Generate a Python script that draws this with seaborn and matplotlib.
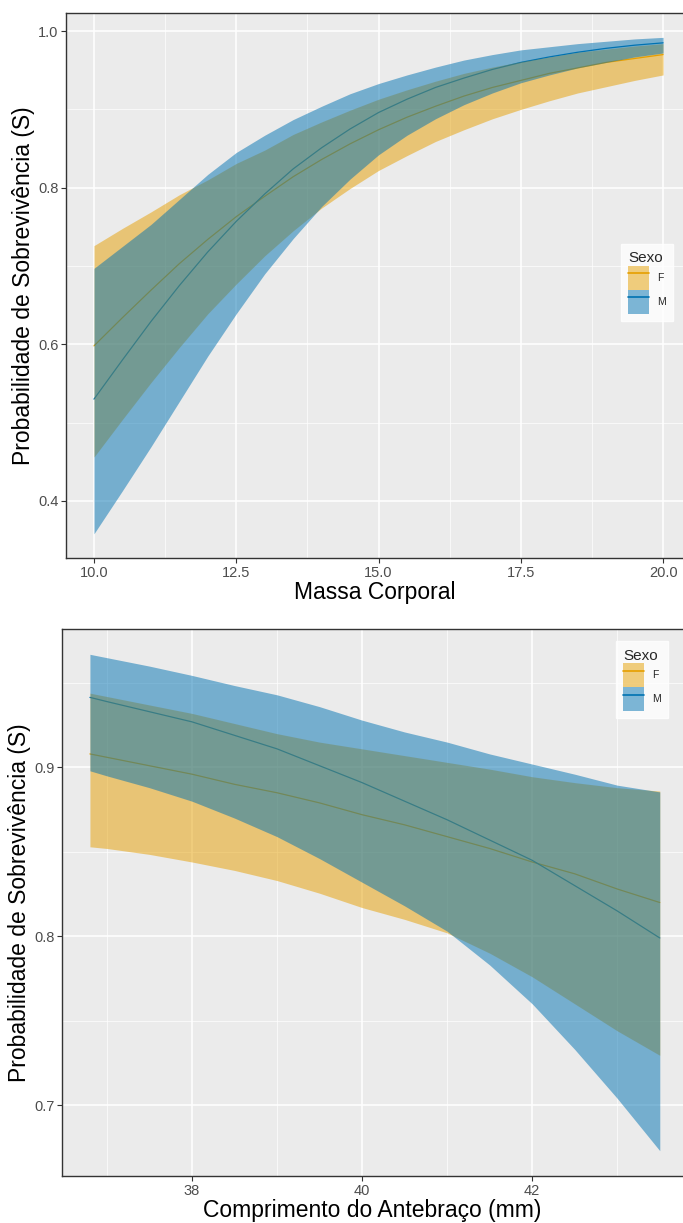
import pandas as pd
import matplotlib
matplotlib.use("Agg")
import matplotlib.pyplot as plt
import seaborn as sns
from matplotlib.patches import Patch
from matplotlib.lines import Line2D
from matplotlib.ticker import MultipleLocator

# ---- painel 1: massa corporal ----
massa = [10, 10.5, 11, 11.5, 12, 12.5, 13, 13.5, 14, 14.5, 15,
         15.5, 16, 16.5, 17, 17.5, 18, 18.5, 19, 19.5, 20]
f_massa_fit = [0.598, 0.634, 0.669, 0.703, 0.734, 0.763, 0.789, 0.814, 0.836, 0.856, 0.874,
               0.890, 0.904, 0.917, 0.928, 0.937, 0.946, 0.953, 0.960, 0.965, 0.970]
f_massa_lo = [0.456, 0.504, 0.551, 0.596, 0.639, 0.677, 0.713, 0.745, 0.774, 0.799, 0.822,
              0.841, 0.859, 0.874, 0.888, 0.900, 0.911, 0.921, 0.929, 0.937, 0.944]
f_massa_hi = [0.726, 0.748, 0.769, 0.791, 0.810, 0.831, 0.848, 0.868, 0.884, 0.899, 0.913,
              0.925, 0.936, 0.946, 0.954, 0.961, 0.967, 0.973, 0.977, 0.981, 0.984]
m_massa_fit = [0.530, 0.580, 0.629, 0.675, 0.718, 0.757, 0.792, 0.824, 0.851, 0.875, 0.896,
               0.913, 0.928, 0.940, 0.951, 0.960, 0.967, 0.973, 0.978, 0.982, 0.985]
m_massa_lo = [0.358, 0.413, 0.469, 0.527, 0.585, 0.639, 0.690, 0.735, 0.776, 0.811, 0.842,
              0.867, 0.888, 0.906, 0.921, 0.934, 0.944, 0.953, 0.960, 0.967, 0.972]
m_massa_hi = [0.697, 0.725, 0.753, 0.785, 0.817, 0.845, 0.867, 0.887, 0.904, 0.920, 0.933,
              0.944, 0.954, 0.963, 0.970, 0.976, 0.980, 0.984, 0.987, 0.990, 0.992]
massa_xticks = [10, 12.5, 15, 17.5, 20]
massa_xlabels = ["10.0", "12.5", "15.0", "17.5", "20.0"]
massa_yticks = [0.4, 0.6, 0.8, 1.0]
massa_ylabels = ["0.4", "0.6", "0.8", "1.0"]

# ---- painel 2: antebraco ----
antebraco = [36.8, 37, 37.5, 38, 38.5, 39, 39.5, 40, 40.5, 41, 41.5, 42, 42.5, 43, 43.5]
f_ant_fit = [0.908, 0.906, 0.901, 0.896, 0.890, 0.885, 0.879, 0.872, 0.866, 0.859,
             0.852, 0.844, 0.837, 0.828, 0.820]
f_ant_lo = [0.853, 0.852, 0.8485, 0.844, 0.839, 0.833, 0.8255, 0.817, 0.810, 0.802,
            0.790, 0.776, 0.760, 0.744, 0.7295]
f_ant_hi = [0.944, 0.942, 0.937, 0.932, 0.926, 0.920, 0.915, 0.911, 0.907, 0.903,
            0.899, 0.8945, 0.891, 0.888, 0.886]
m_ant_fit = [0.9415, 0.939, 0.933, 0.927, 0.919, 0.911, 0.901, 0.891, 0.880, 0.869,
             0.857, 0.845, 0.830, 0.815, 0.799]
m_ant_lo = [0.898, 0.895, 0.888, 0.880, 0.870, 0.859, 0.846, 0.832, 0.818, 0.803,
            0.783, 0.760, 0.733, 0.704, 0.673]
m_ant_hi = [0.967, 0.965, 0.960, 0.9545, 0.9485, 0.943, 0.936, 0.928, 0.921, 0.915,
            0.908, 0.902, 0.896, 0.8895, 0.8855]
ant_xticks = [38, 40, 42]
ant_xlabels = ["38", "40", "42"]
ant_yticks = [0.7, 0.8, 0.9]
ant_ylabels = ["0.7", "0.8", "0.9"]

sexos = ["F", "M"]
cores = {"F": "#E69F00", "M": "#0072B2"}


def monta_df(x, f_fit, f_lo, f_hi, m_fit, m_lo, m_hi):
    n = len(x)
    return pd.DataFrame({
        "x": list(x) * 2,
        "fit": f_fit + m_fit,
        "lo": f_lo + m_lo,
        "hi": f_hi + m_hi,
        "Sexo": ["F"] * n + ["M"] * n,
    })


def painel(ax, df, xlabel, xticks, xlabels, yticks, ylabels, xlim, ylim,
           xminor, yminor, leg_anchor):
    # linhas primeiro, faixas por cima (como no ggplot)
    sns.lineplot(data=df, x="x", y="fit", hue="Sexo", palette=cores,
                 linewidth=0.9, legend=False, ax=ax, zorder=2)
    for s in sexos:
        sub = df[df["Sexo"] == s]
        ax.fill_between(sub["x"], sub["lo"], sub["hi"], color=cores[s],
                        alpha=0.5, linewidth=0, zorder=3)

    ax.set_xlim(*xlim)
    ax.set_ylim(*ylim)
    ax.set_xticks(xticks)
    ax.set_xticklabels(xlabels)
    ax.set_yticks(yticks)
    ax.set_yticklabels(ylabels)
    ax.xaxis.set_minor_locator(MultipleLocator(xminor))
    ax.yaxis.set_minor_locator(MultipleLocator(yminor))
    ax.set_axisbelow(True)
    ax.grid(which="major", color="white", linewidth=1.1)
    ax.grid(which="minor", color="white", linewidth=0.5)
    ax.tick_params(which="major", bottom=True, left=True, length=3.5,
                   width=0.8, color="#333333", labelcolor="#4D4D4D",
                   labelsize=10.5, pad=2)
    ax.tick_params(which="minor", length=0)

    for lado in ["left", "bottom", "top"]:
        ax.spines[lado].set_visible(True)
        ax.spines[lado].set_color("#333333")
        ax.spines[lado].set_linewidth(1.0)
    ax.spines["right"].set_visible(False)

    ax.set_xlabel(xlabel, fontsize=16.5, color="black", labelpad=1)
    ax.set_ylabel("Probabilidade de Sobrevivência (S)", fontsize=16.5,
                  color="black", labelpad=2)

    handles = [(Patch(facecolor=cores[s], alpha=0.5, linewidth=0),
                Line2D([0], [0], color=cores[s], linewidth=1.2)) for s in sexos]
    leg = ax.legend(handles, sexos, title="Sexo", loc="upper left",
                    bbox_to_anchor=leg_anchor, borderaxespad=0,
                    frameon=True, fancybox=False, fontsize=7.5,
                    title_fontsize=11, handlelength=2.0, handleheight=3.1,
                    labelspacing=0.05, handletextpad=0.8, borderpad=0.7)
    leg.get_frame().set_facecolor("white")
    leg.get_frame().set_edgecolor("white")
    leg._legend_box.align = "left"
    leg.set_zorder(10)


def main():
    sns.set_theme(style="darkgrid", rc={"axes.facecolor": "#EBEBEB"})
    plt.rcParams["font.family"] = ["Liberation Sans", "DejaVu Sans"]

    fig = plt.figure(figsize=(6.83, 12.23), dpi=100)
    fig.patch.set_facecolor("white")

    df_massa = monta_df(massa, f_massa_fit, f_massa_lo, f_massa_hi,
                        m_massa_fit, m_massa_lo, m_massa_hi)
    df_ant = monta_df(antebraco, f_ant_fit, f_ant_lo, f_ant_hi,
                      m_ant_fit, m_ant_lo, m_ant_hi)

    ax1 = fig.add_axes([0.0966, 0.5437, 0.9034, 0.4456])
    painel(ax1, df_massa, "Massa Corporal", massa_xticks, massa_xlabels,
           massa_yticks, massa_ylabels, (9.508, 20.35), (0.327, 1.023),
           1.25, 0.1, (0.899, 0.576))

    ax2 = fig.add_axes([0.0912, 0.0384, 0.9088, 0.4473])
    painel(ax2, df_ant, "Comprimento do Antebraço (mm)", ant_xticks,
           ant_xlabels, ant_yticks, ant_ylabels, (36.475, 43.773),
           (0.658, 0.982), 1, 0.05, (0.892, 0.9775))

    fig.savefig("out.png", dpi=100)


if __name__ == "__main__":
    main()
